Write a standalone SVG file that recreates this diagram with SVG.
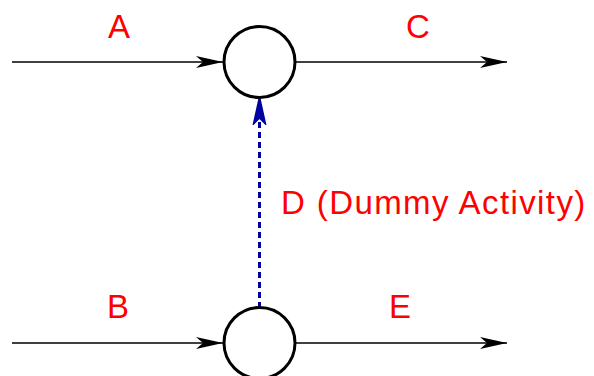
<svg xmlns="http://www.w3.org/2000/svg" width="594" height="376" viewBox="0 0 594 376">
<style>
.lbl{font-family:"Liberation Sans",Arial,sans-serif;font-size:33px;fill:#ff0000;text-anchor:middle}
.node{fill:#ffffff;stroke:#000000;stroke-width:3}
.arc{stroke:#000000;stroke-width:1.5;fill:none}
.dummy{stroke:#0000a0;stroke-width:3;stroke-dasharray:6,4;fill:none}
</style>
<defs>
<marker id="ah" markerUnits="userSpaceOnUse" markerWidth="28" markerHeight="14" refX="27" refY="7" orient="auto" viewBox="0 0 28 14">
<path d="M0,1 L27,7 L0,13 L7,7 Z" fill="#000000"/>
</marker>
<marker id="ahb" markerUnits="userSpaceOnUse" markerWidth="30" markerHeight="16" refX="28" refY="8" orient="auto" viewBox="0 0 30 16">
<path d="M1,2 L28,8 L1,14 L7,8 Z" fill="#0000a0" stroke="#0000a0" stroke-width="1.5" stroke-linejoin="miter"/>
</marker>
</defs>
<rect width="594" height="376" fill="#ffffff"/>
<g id="connectors">
<line class="arc" x1="12" y1="62" x2="223" y2="62" marker-end="url(#ah)"/>
<line class="arc" x1="296" y1="62" x2="507" y2="62" marker-end="url(#ah)"/>
<line class="arc" x1="12" y1="343" x2="223" y2="343" marker-end="url(#ah)"/>
<line class="arc" x1="296" y1="343" x2="507" y2="343" marker-end="url(#ah)"/>
<line class="dummy" x1="259.5" y1="308" x2="259.5" y2="97" marker-end="url(#ahb)"/>
<text class="lbl" x="119" y="38">A</text>
<text class="lbl" x="418" y="38">C</text>
<text class="lbl" x="118" y="318">B</text>
<text class="lbl" x="400" y="318">E</text>
<text class="lbl" x="281" y="213.5" style="text-anchor:start;letter-spacing:1.4px">D (Dummy Activity)</text>
</g>
<g id="node1"><circle class="node" cx="259.5" cy="62" r="35.5"/></g>
<g id="node2"><circle class="node" cx="259.5" cy="343" r="35.5"/></g>
</svg>
